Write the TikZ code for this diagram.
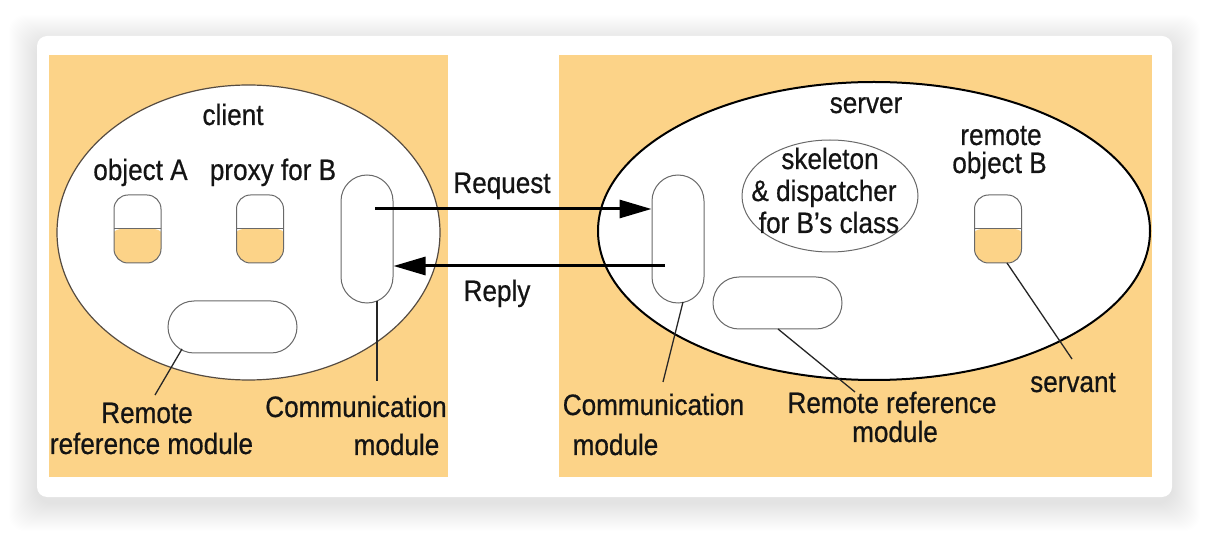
\documentclass[tikz,border=0pt]{standalone}
\usepackage{fontspec}
\setmainfont{Liberation Sans}[FakeStretch=0.885,FakeBold=0.6]
\usetikzlibrary{shapes.geometric,arrows.meta}
\definecolor{peach}{RGB}{252,211,136}
\definecolor{capgray}{RGB}{105,105,105}
\definecolor{elline}{RGB}{85,75,65}
\begin{document}
\begin{tikzpicture}[x=1pt,y=-1pt,
  lab/.style={inner sep=0pt, anchor=base, font=\fontsize{29.5}{31}\selectfont, text=black!92},
  halfcap/.style={draw=capgray, line width=1pt, fill=white, rounded corners=14pt,
    minimum width=47pt, minimum height=68pt, inner sep=0pt,
    path picture={\fill[peach] ([xshift=-6pt]path picture bounding box.west) rectangle ([xshift=6pt,yshift=-6pt]path picture bounding box.south east);
      \draw[capgray, line width=1pt] ([xshift=-6pt]path picture bounding box.west) -- ([xshift=6pt]path picture bounding box.east);}},
  fullcap/.style={draw=capgray, line width=1pt, fill=white, rounded corners=26pt, inner sep=0pt},
  leader/.style={draw=black!85, line width=1.3pt},
  arr/.style={line width=3pt, -{Triangle[length=32pt,width=18pt]}}]

\useasboundingbox (0,0) rectangle (1208,534);
\fill[white] (0,0) rectangle (1208,534);
\foreach \i in {1,...,28}
  \fill[black, opacity=0.0045, rounded corners=16pt] (37-\i,43-\i) rectangle (1172+\i,503+\i);
\fill[white, rounded corners=10pt] (37,36) rectangle (1172,497);
\fill[peach] (49,55) rectangle (448,477);
\fill[peach] (559,55) rectangle (1152,477);

% enclosing ellipses
\node[ellipse, draw=elline, line width=1.2pt, fill=white, minimum width=383pt, minimum height=295pt, inner sep=0pt] (cell) at (248.5,232.5) {};
\node[ellipse, draw=black, line width=2pt, fill=white, minimum width=552pt, minimum height=298pt, inner sep=0pt] (sell) at (874,231) {};

% components
\node[halfcap] (objA) at (137.5,229) {};
\node[halfcap] (proxyB) at (260,229) {};
\node[halfcap] (robjB) at (998,229) {};
\node[fullcap, minimum width=52pt, minimum height=128pt] (ccomm) at (367,239) {};
\node[fullcap, minimum width=52pt, minimum height=128pt] (scomm) at (678,239) {};
\node[fullcap, minimum width=129pt, minimum height=52pt] (crrm) at (232.5,327) {};
\node[fullcap, minimum width=129pt, minimum height=52pt] (srrm) at (777.5,303) {};
\node[ellipse, draw=capgray, line width=1pt, fill=white, minimum width=176pt, minimum height=112pt, inner sep=0pt] (skel) at (830,196) {};

% labels
\node[lab] (tclient) at (233,125) {client};
\node[lab] (tobjA) at (140.5,180) {object A};
\node[lab] (tproxy) at (273,180) {proxy for B};
\node[lab] (treq) at (502,193) {Request};
\node[lab] (trep) at (497,301) {Reply};
\node[lab] (tcrrm1) at (147,423) {Remote};
\node[lab] (tcrrm2) at (151.5,454) {reference module};
\node[lab] (tccom1) at (356,417) {Communication};
\node[lab] (tccom2) at (396.5,455) {module};
\node[lab] (tserver) at (866,113) {server};
\node[lab] (tsk1) at (830,169) {skeleton};
\node[lab] (tsk2) at (824,201) {\& dispatcher};
\node[lab] (tsk3) at (829,233) {for B’s class};
\node[lab] (trob1) at (1001,145) {remote};
\node[lab] (trob2) at (999.5,173) {object B};
\node[lab] (tscom1) at (653.5,415) {Communication};
\node[lab] (tscom2) at (615.5,455) {module};
\node[lab] (tsrrm1) at (892,413) {Remote reference};
\node[lab] (tsrrm2) at (895,442) {module};
\node[lab] (tserv) at (1073,392) {servant};

% request / reply
\coordinate (rqs) at (375,209);
\draw[arr] (rqs) -- (rqs -| scomm.west);
\coordinate (rps) at (665,266);
\draw[arr] (rps) -- (rps -| ccomm.east);

% leader lines
\coordinate (l1a) at (182,349); \coordinate (l1b) at (155,395);
\draw[leader] (l1a) -- (l1b);
\coordinate (l2a) at (377,301); \coordinate (l2b) at (377,381);
\draw[leader] (l2a) -- (l2b);
\coordinate (l3a) at (683,302); \coordinate (l3b) at (663,382);
\draw[leader] (l3a) -- (l3b);
\coordinate (l4a) at (778,329); \coordinate (l4b) at (855,392);
\draw[leader] (l4a) -- (l4b);
\coordinate (l5a) at (1007,263); \coordinate (l5b) at (1072,359);
\draw[leader] (l5a) -- (l5b);
\end{tikzpicture}
\end{document}
